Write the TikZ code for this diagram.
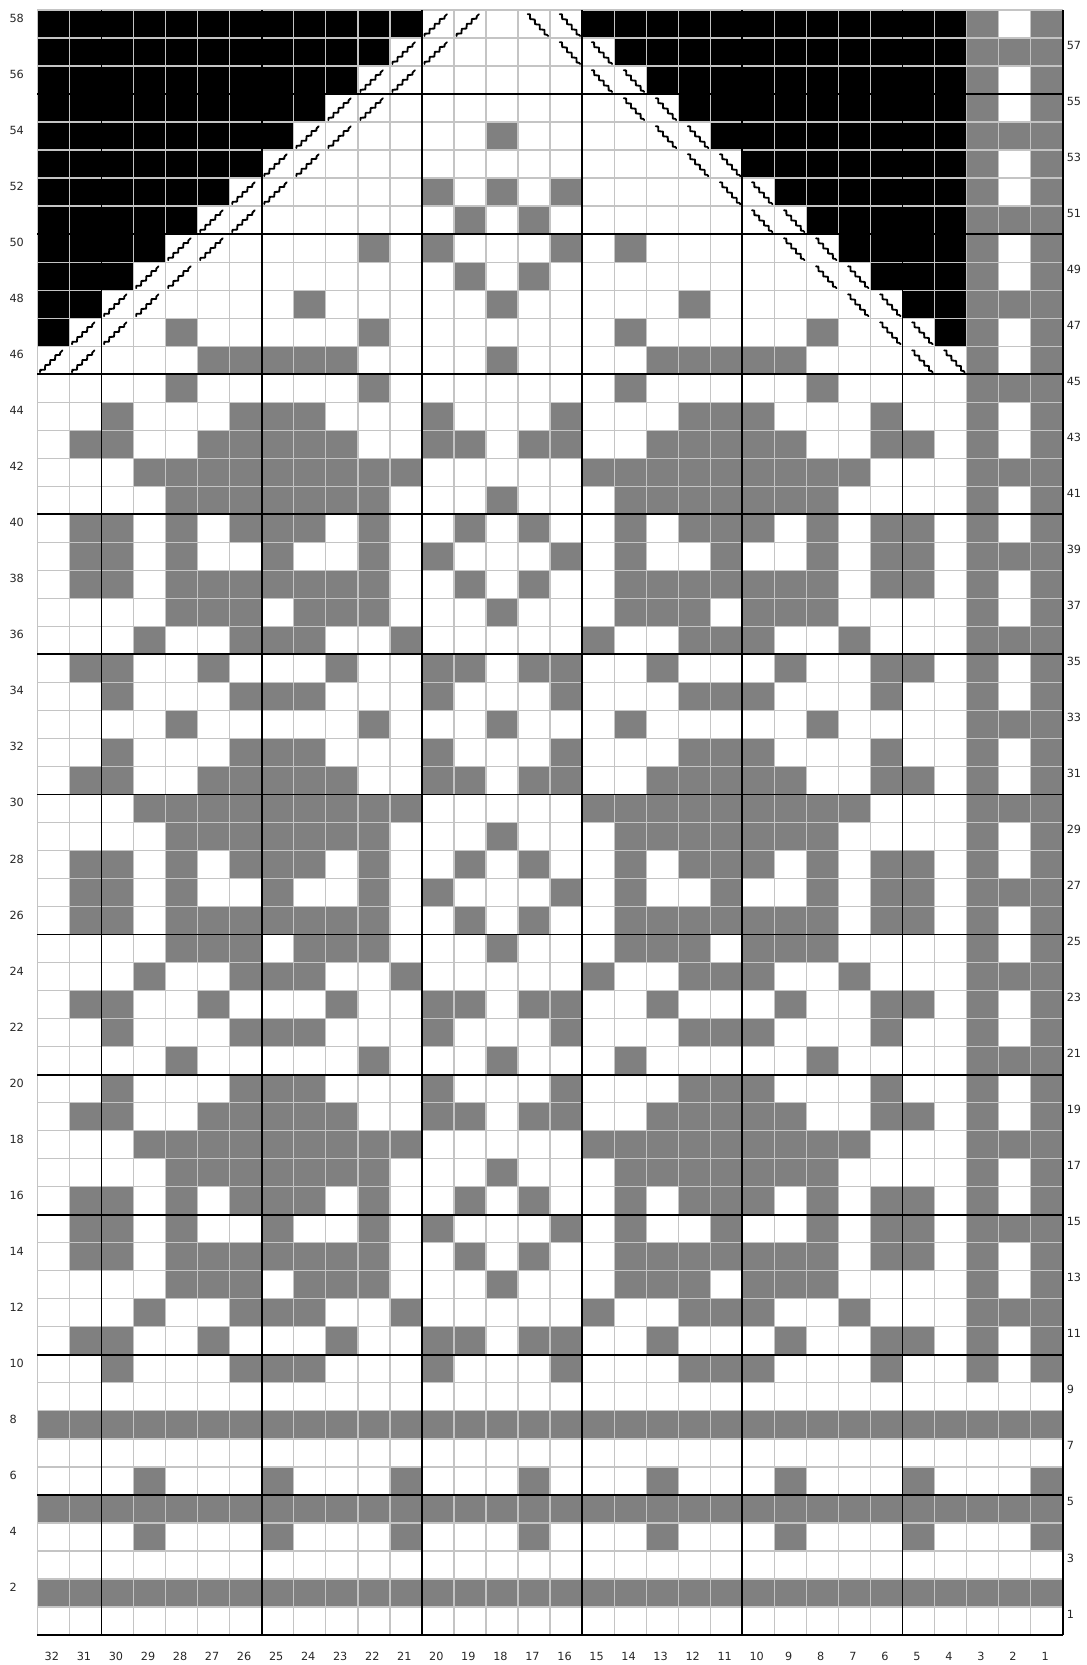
\documentclass[tikz,border=0pt]{standalone}
\usepackage{fontspec}
\setmainfont{DejaVu Sans}
\usetikzlibrary{decorations.pathmorphing}
\usepackage{xcolor}
\definecolor{chartgray}{RGB}{128,128,128}
\definecolor{gridgray}{RGB}{196,196,196}
\tikzset{
    stitch/.style = {fill=chartgray},
    nostitch/.style = {fill=black},
    gridline/.style = {draw=gridgray, line width=0.9pt},
    boldline/.style = {draw=black, line width=1.3pt},
    decstitch/.style = {line width=1.3pt, line cap=round, line join=round, decorate, decoration={zigzag, segment length=5pt, amplitude=1.1pt}},
    rowlabel/.style = {font=\fontsize{8}{9}\selectfont, text=black!85, inner sep=0pt}
}
% one gray square: column #1 (counted from the right), row #2
\newcommand{\knit}[2]{\fill[stitch] ({32-(#1)},{(#2)-1}) rectangle ({33-(#1)},{#2});}

\begin{document}
\begin{tikzpicture}[x=0.8cm, y=0.6996cm]
\useasboundingbox (-1.170,-1.071) rectangle (32.758,58.357);

% ---- border rows 1-9 ----
\foreach \rr in {2,5,8} \fill[stitch] (0,\rr-1) rectangle (32,\rr);
\foreach \rr in {4,6} \foreach \c in {1,5,...,29} \knit{\c}{\rr};

% ---- motif band, rows 10-44 (repeats every 12 rows, mirrored about column 18) ----
\foreach \base in {10,22,34}{
  \foreach \k/\cols in {0/{30,26,25,24,20}, 1/{31,30,27,23,20,19}, 2/{29,26,25,24,21},
      3/{28,27,26,24,23,22,18}, 4/{31,30,28,27,26,25,24,23,22,19}, 5/{31,30,28,25,22,20},
      6/{31,30,28,26,25,24,22,19}, 7/{28,27,26,25,24,23,22,18}, 8/{29,28,27,26,25,24,23,22,21},
      9/{31,30,27,26,25,24,23,20,19}, 10/{30,26,25,24,20}, 11/{28,22,18}}{
    \pgfmathtruncatemacro{\rr}{\base+\k}
    \ifnum\rr<45
      \foreach \c in \cols {\knit{\c}{\rr}\knit{36-\c}{\rr}}
    \fi
  }
}

% ---- yoke, rows 45-54 ----
\foreach \rr/\cols in {45/{28,22}, 46/{27,26,25,24,23,18}, 47/{28,22}, 48/{24,18},
    49/{19}, 50/{22,20}, 51/{19}, 52/{20,18}, 54/{18}}{
  \foreach \c in \cols {\knit{\c}{\rr}\knit{36-\c}{\rr}}
}

% ---- edge columns 3-1 ----
\foreach \rr in {10,...,58}{
  \knit{3}{\rr}\knit{1}{\rr}
  \pgfmathtruncatemacro{\m}{mod(\rr,3)}
  \ifnum\m=0 \knit{2}{\rr}\fi
}

% ---- no stitch (black) and decreases ----
\foreach \rr in {47,...,58}{
  \fill[nostitch] (0,\rr-1) rectangle (\rr-46,\rr);
  \fill[nostitch] (75-\rr,\rr-1) rectangle (29,\rr);
}
\foreach \rr in {46,...,58}{
  \foreach \x in {\rr-46,\rr-45}
    \draw[decstitch] (\x+0.08,\rr-0.93) -- (\x+0.78,\rr-0.15);
  \foreach \x in {73-\rr,74-\rr}
    \draw[decstitch] (\x+0.3,\rr-0.15) -- (\x+0.94,\rr-0.93);
}

% ---- grid ----
\foreach \x in {0,...,32} \draw[gridline] (\x,0) -- (\x,58);
\foreach \y in {0,...,58} \draw[gridline] (0,\y) -- (32,\y);
\foreach \x in {2,7,...,32} \draw[boldline] (\x,0) -- (\x,58);
\foreach \y in {0,5,...,55} \draw[boldline] (0,\y) -- (32,\y);

% ---- numbers ----
\foreach \rr in {2,4,...,58} \node[rowlabel, anchor=west] (left\rr) at (-0.88,\rr-0.3) {\rr};
\foreach \rr in {1,3,...,57} \node[rowlabel, anchor=west] (right\rr) at (32.12,\rr-0.25) {\rr};
\foreach \c in {1,...,32} \node[rowlabel] (col\c) at (32.45-\c,-0.75) {\c};

\end{tikzpicture}
\end{document}
